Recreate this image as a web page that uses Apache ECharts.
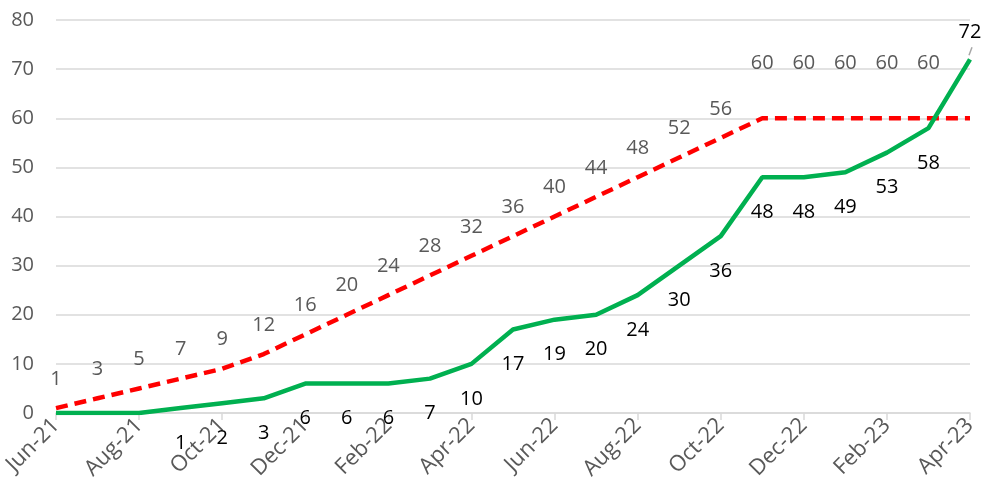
<!DOCTYPE html>
<html><head><meta charset="utf-8">
<script src="https://cdn.jsdelivr.net/npm/echarts@6/dist/echarts.min.js"></script>
<style>html,body{margin:0;padding:0;background:#fff}#c{width:982px;height:492px}</style>
</head><body><div id="c"></div>
<script>
const months = ['Jun-21','Jul-21','Aug-21','Sep-21','Oct-21','Nov-21','Dec-21','Jan-22','Feb-22','Mar-22','Apr-22','May-22','Jun-22','Jul-22','Aug-22','Sep-22','Oct-22','Nov-22','Dec-22','Jan-23','Feb-23','Mar-23','Apr-23'];
const planned = [1,3,5,7,9,12,16,20,24,28,32,36,40,44,48,52,56,60,60,60,60,60,60];
const actual = [0,0,0,1,2,3,6,6,6,7,10,17,19,20,24,30,36,48,48,49,53,58,72];

const font = "'Open Sans', sans-serif";
const redData = planned.map((v,i)=>{
  const o = {value:v};
  if (i === planned.length-1) o.label = {show:false};
  else if (v === 60) o.label = {distance:44};
  return o;
});
const greenData = actual.map((v,i)=>{
  const o = {value:v};
  if (i < 3) o.label = {show:false};
  if (i === actual.length-1) o.label = {position:'top', distance:16, color:'#000'};
  return o;
});
const chart = echarts.init(document.getElementById('c'));
chart.setOption({
  animation:false,
  grid:{left:56,right:12,top:20,bottom:79},
  xAxis:{type:'category',data:months,boundaryGap:false,
    axisLine:{lineStyle:{color:'#d9d9d9',width:1.5}},
    axisTick:{show:true,interval:1,length:7,lineStyle:{color:'#d9d9d9',width:1.5}},
    axisLabel:{interval:1,rotate:45,color:'#595959',fontSize:22,fontFamily:font,margin:9}},
  yAxis:{type:'value',min:0,max:80,interval:10,
    axisLine:{show:false},axisTick:{show:false},
    splitLine:{lineStyle:{color:'#d9d9d9',width:1.5}},
    axisLabel:{color:'#595959',fontSize:20,fontFamily:font,margin:22}},
  graphic:[],
  series:[
    {type:'line',data:redData,symbol:'circle',symbolSize:2,showSymbol:true,
      itemStyle:{color:'rgba(255,0,0,0)'},
      lineStyle:{color:'#ff0000',width:4.5,type:[12,7]},
      label:{show:true,position:'top',distance:18,color:'#595959',fontSize:20,fontFamily:font}},
    {type:'line',data:greenData,symbol:'circle',symbolSize:2,showSymbol:true,z:3,
      itemStyle:{color:'rgba(0,176,80,0)'},
      lineStyle:{color:'#00b050',width:4.5},
      label:{show:true,position:'bottom',distance:24,color:'#000',fontSize:20,fontFamily:font}}
  ]
});
// small leader line from the last green point to its label
const last = actual.length-1;
const p = chart.convertToPixel({seriesIndex:1},[last, actual[last]]);
chart.setOption({graphic:[{type:'line',shape:{x1:p[0]-1,y1:p[1]-4,x2:p[0]+2,y2:p[1]-12},
  style:{stroke:'#a6a6a6',lineWidth:1.5},z:10}]});
</script></body></html>
